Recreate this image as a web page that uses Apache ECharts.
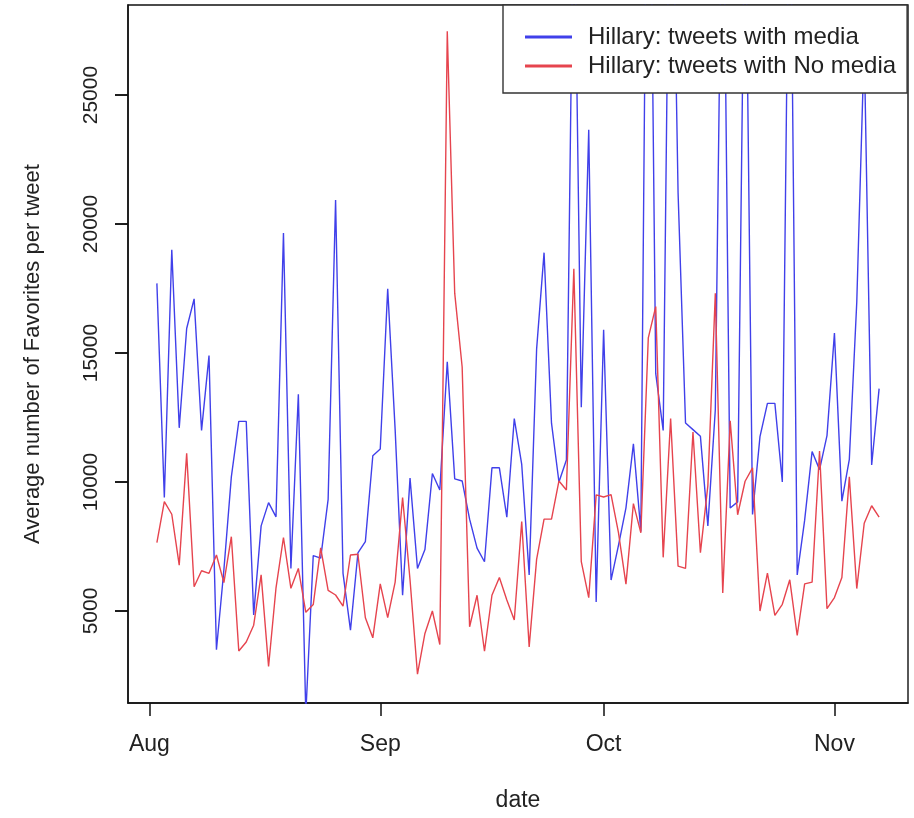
<!DOCTYPE html>
<html>
<head>
<meta charset="utf-8">
<title>Hillary: average favorites per tweet</title>
<script src="https://cdn.jsdelivr.net/npm/echarts@6.0.0/dist/echarts.min.js"></script>
<style>
  html, body { margin: 0; padding: 0; background: #fff; }
  #chart { width: 914px; height: 818px; }
</style>
</head>
<body>
<div id="chart"></div>
<script>
  // one value per day, 2 Aug 2016 .. 7 Nov 2016
  const firstDay = [2016, 7, 2];

  const mediaFavs = [
    17700, 9400, 19000, 12100, 15950, 17100, 12000, 14900, 3500, 6600,
    10200, 12350, 12350, 4850, 8300, 9200, 8650, 19650, 6650, 13400,
    1000, 7150, 7050, 9330, 20930, 6460, 4260, 7250, 7690, 11020,
    11280, 17490, 12030, 5610, 10150, 6650, 7380, 10330, 9690, 14660,
    10120, 10040, 8560, 7440, 6910, 10550, 10550, 8640, 12460, 10680,
    6400, 15150, 18890, 12280, 10000, 10850, 34000, 12900, 23650, 5350,
    15900, 6200, 7550, 9000, 11480, 8080, 42000, 14200, 12000, 38000,
    21200, 12290, 12030, 11770, 8300, 12800, 36000, 8990, 9230, 34000,
    8740, 11760, 13050, 13050, 10000, 36000, 6400, 8520, 11180, 10480,
    11800, 15770, 9260, 10880, 16980, 27000, 10660, 13620
  ];

  const noMediaFavs = [
    7650, 9240, 8750, 6780, 11110, 5940, 6560, 6460, 7170, 6100,
    7880, 3450, 3800, 4450, 6400, 2850, 5900, 7850, 5880, 6650,
    4950, 5250, 7450, 5800, 5620, 5190, 7170, 7200, 4740, 3960,
    6050, 4740, 6120, 9400, 6200, 2550, 4130, 5000, 3700, 27470,
    17320, 14460, 4390, 5610, 3440, 5610, 6300, 5430, 4650, 8470,
    3610, 7000, 8560, 8560, 10040, 9690, 18270, 6910, 5520, 9500,
    9420, 9510, 8030, 6040, 9160, 8030, 15590, 16800, 7080, 12460,
    6740, 6650, 11940, 7260, 9860, 17320, 5700, 12370, 8730, 10030,
    10550, 5000, 6470, 4830, 5260, 6210, 4050, 6050, 6120, 11200,
    5090, 5520, 6300, 10200, 5870, 8400, 9080, 8640
  ];

  const monthTicks = [[2016, 7, 1], [2016, 8, 1], [2016, 9, 1], [2016, 10, 1]];
  const monthLabels = ['Aug', 'Sep', 'Oct', 'Nov'];
  const yTicks = [5000, 10000, 15000, 20000, 25000];

  // x is counted in days; the left edge of the plot (4% before the first day) is 0
  const DAY = 24 * 3600 * 1000;
  const firstTime = new Date(firstDay[0], firstDay[1], firstDay[2]).getTime();
  const dayOf = t => Math.round((t - firstTime) / DAY);
  const span = mediaFavs.length - 1;
  const pad = span * 0.04;
  const days = mediaFavs.map((v, i) => dayOf(new Date(firstDay[0], firstDay[1], firstDay[2] + i).getTime()) + pad);
  const tickDays = monthTicks.map(d => dayOf(new Date(d[0], d[1], d[2]).getTime()) + pad);

  const fontFamily = '"Liberation Sans", Arial, Helvetica, sans-serif';
  const ink = { color: '#111', width: 1.5 };
  const tickLen = 13;
  const yMin = 1434;
  const yMax = 28490;

  const chart = echarts.init(document.getElementById('chart'), null, { renderer: 'canvas' });

  const option = {
    backgroundColor: '#fff',
    animation: false,
    textStyle: { fontFamily: fontFamily },
    grid: {
      left: 128,
      right: 6,
      top: 5,
      bottom: 115,
      show: true,
      borderColor: '#111',
      borderWidth: 1.4
    },
    legend: {
      orient: 'vertical',
      left: 503,
      top: 5,
      icon: 'rect',
      itemWidth: 47,
      itemHeight: 3,
      itemGap: 5,
      padding: [20, 11, 15, 22],
      backgroundColor: '#fff',
      borderColor: '#333',
      borderWidth: 1.4,
      textStyle: { fontSize: 24, color: '#222', padding: [0, 0, 0, 11] }
    },
    xAxis: {
      type: 'value',
      min: 0,
      max: span + 2 * pad,
      name: 'date',
      nameLocation: 'middle',
      nameGap: 86,
      nameTextStyle: { fontSize: 23, color: '#222' },
      axisLine: { show: true, lineStyle: ink },
      splitLine: { show: false },
      axisTick: {
        show: true,
        customValues: tickDays,
        length: tickLen,
        lineStyle: ink
      },
      axisLabel: {
        customValues: tickDays,
        fontSize: 23,
        color: '#222',
        margin: 30,
        formatter: function (value) {
          const i = tickDays.findIndex(t => Math.abs(t - value) < 0.01);
          return i >= 0 ? monthLabels[i] : '';
        }
      }
    },
    yAxis: [
      {
        type: 'value',
        min: yMin,
        max: yMax,
        name: 'Average number of Favorites per tweet',
        nameLocation: 'middle',
        nameGap: 84,
        nameTextStyle: { fontSize: 22, color: '#222' },
        axisLine: { show: true, lineStyle: ink },
        splitLine: { show: false },
        axisTick: {
          show: true,
          customValues: yTicks,
          length: tickLen,
          lineStyle: ink
        },
        axisLabel: {
          customValues: yTicks,
          rotate: 90,
          fontSize: 21,
          color: '#222',
          margin: 26,
          formatter: value => String(value)
        }
      },
      {
        // tick-only copy of the left axis
        type: 'value',
        position: 'left',
        min: yMin,
        max: yMax,
        axisLine: { show: false, onZero: false },
        splitLine: { show: false },
        axisLabel: { show: false },
        axisTick: {
          show: true,
          customValues: yTicks,
          length: tickLen,
          lineStyle: ink
        }
      }
    ],
    series: [
      {
        name: 'Hillary: tweets with media',
        type: 'line',
        showSymbol: false,
        symbol: 'none',
        color: '#4040ea',
        lineStyle: { width: 1.4, color: '#4040ea' },
        data: days.map((d, i) => [d, mediaFavs[i]])
      },
      {
        name: 'Hillary: tweets with No media',
        type: 'line',
        showSymbol: false,
        symbol: 'none',
        color: '#e6444e',
        lineStyle: { width: 1.4, color: '#e6444e' },
        data: days.map((d, i) => [d, noMediaFavs[i]])
      }
    ]
  };

  chart.setOption(option);

  // y ticks placed through the axis scale, drawn out from the left edge
  function drawYTicks() {
    const rect = chart.getModel().getComponent('grid', 0).coordinateSystem.getRect();
    chart.setOption({
      graphic: {
        elements: yTicks.map((v, i) => {
          const py = chart.convertToPixel({ yAxisIndex: 0 }, v);
          return {
            id: 'ytick' + i,
            type: 'line',
            silent: true,
            z: 100,
            zlevel: 1,
            shape: { x1: rect.x - tickLen, y1: py, x2: rect.x, y2: py },
            style: { stroke: ink.color, lineWidth: ink.width }
          };
        })
      }
    });
  }
  drawYTicks();

  window.addEventListener('resize', () => {
    chart.resize();
    drawYTicks();
  });
</script>
</body>
</html>
